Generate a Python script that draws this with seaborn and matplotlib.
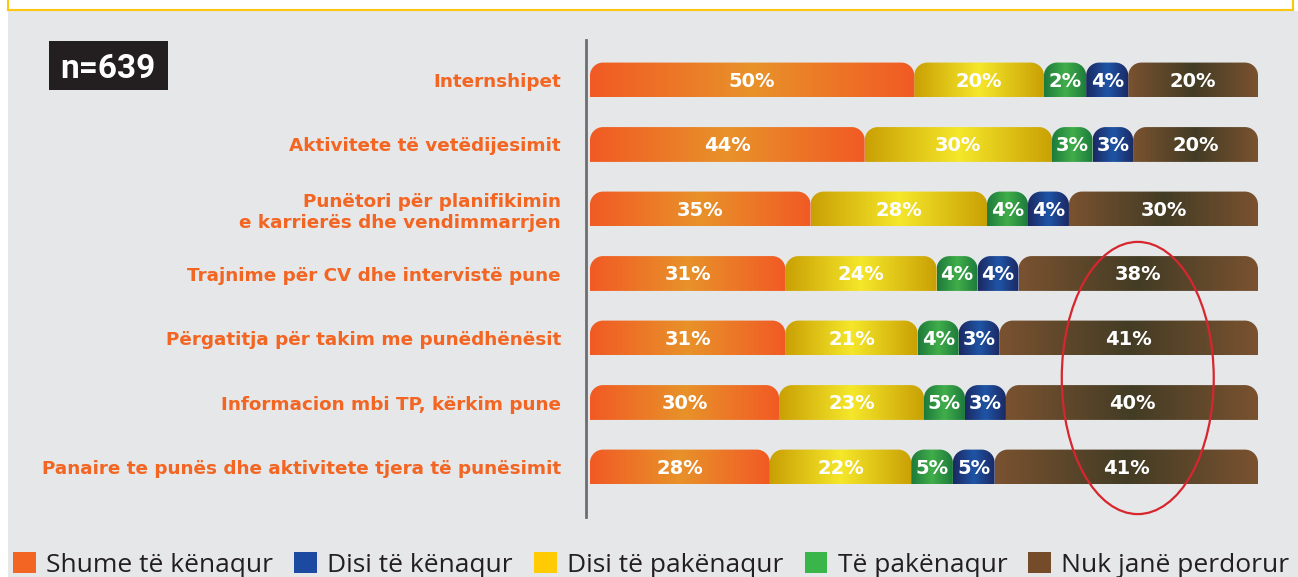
import numpy as np
import pandas as pd
import matplotlib
matplotlib.use("Agg")
import matplotlib.pyplot as plt
import seaborn as sns
from matplotlib.path import Path
from matplotlib.patches import PathPatch, Patch, Rectangle, Ellipse
from matplotlib.colors import LinearSegmentedColormap
from matplotlib.lines import Line2D

plt.rcParams["font.family"] = "DejaVu Sans"
plt.rcParams["font.weight"] = "bold"

# data
categories = [
    "Internshipet",
    "Aktivitete të vetëdijesimit",
    "Punëtori për planifikimin\ne karrierës dhe vendimmarrjen",
    "Trajnime për CV dhe intervistë pune",
    "Përgatitja për takim me punëdhënësit",
    "Informacion mbi TP, kërkim pune",
    "Panaire te punës dhe aktivitete tjera të punësimit",
]
shume_kenaqur = [50, 44, 35, 31, 31, 30, 28]
disi_pakenaqur = [20, 30, 28, 24, 21, 23, 22]
te_pakenaqur = [2, 3, 4, 4, 4, 5, 5]
disi_kenaqur = [4, 3, 4, 4, 3, 3, 5]
nuk_perdorur = [20, 20, 30, 38, 41, 40, 41]

legend_labels = ["Shume të kënaqur", "Disi të kënaqur", "Disi të pakënaqur",
                 "Të pakënaqur", "Nuk janë perdorur"]
legend_colors = ["#f26522", "#1b4aa0", "#ffcb05", "#39b54a", "#754c29"]

# segment order in bars (left to right) and gradient colours (edge, centre)
series = [shume_kenaqur, disi_pakenaqur, te_pakenaqur, disi_kenaqur, nuk_perdorur]
gradients = [
    ("#f15a24", "#e8922a"),
    ("#c9a004", "#f5e72a"),
    ("#1d7a3b", "#41ae4a"),
    ("#1b2862", "#1f55a6"),
    ("#7a5230", "#433c25"),
]

vals = np.array(series, dtype=float).T          # rows x segments
# tiny segments get a minimum visual width so labels fit, rows fill the width
disp = np.maximum(vals, 6.5)
disp = disp / disp.sum(axis=1, keepdims=True) * 100
cum = np.cumsum(disp, axis=1)

W, H = 1298, 577
fig = plt.figure(figsize=(W / 100, H / 100), dpi=100, facecolor="white")

# grey panel + yellow frame of the block above
fig.patches.append(Rectangle((8 / W, 0), 1 - 8 / W, 1 - 11 / H, transform=fig.transFigure,
                             facecolor="#e6e7e8", edgecolor="none", zorder=-5))
ylw = "#fdc70f"
fig.lines.append(Line2D([8 / W, 1293 / W], [1 - 10 / H, 1 - 10 / H], transform=fig.transFigure,
                        color=ylw, lw=1.5, zorder=-4))
fig.lines.append(Line2D([8 / W, 8 / W], [1 - 10 / H, 1], transform=fig.transFigure, color=ylw,
                        lw=1.5, zorder=-4))
fig.lines.append(Line2D([1293 / W, 1293 / W], [1 - 10 / H, 1], transform=fig.transFigure,
                        color=ylw, lw=1.5, zorder=-4))

ax = fig.add_axes([590 / W, 60 / H, 668 / W, 477 / H])
ax.set_facecolor("none")

df = pd.DataFrame(cum, columns=[f"c{i}" for i in range(5)])
df["cat"] = categories

bar_h = 0.54
layers = []
for i in range(4, -1, -1):
    n0 = len(ax.patches)
    sns.barplot(data=df, x=f"c{i}", y="cat", orient="h", width=bar_h, color="grey",
                errorbar=None, ax=ax)
    layers.append((i, ax.patches[n0:]))

ax.set_xlim(0, 100)
ax.set_ylim(6.775, -0.62)
ax.set_autoscale_on(False)

p0 = ax.transData.transform((0, 0))
p1 = ax.transData.transform((1, 1))
px_x = abs(p1[0] - p0[0])
px_y = abs(p1[1] - p0[1])
r_px = 13
k = 0.5523

for i, patches in layers:
    cmap = LinearSegmentedColormap.from_list(f"g{i}", [gradients[i][0], gradients[i][1], gradients[i][0]])
    for row, p in enumerate(patches):
        p.set_visible(False)
        x1 = p.get_width()
        x0 = cum[row, i - 1] if i > 0 else 0.0
        yt = p.get_y()
        yb = yt + p.get_height()
        rx = min(r_px / px_x, (x1 - x0) / 2)
        ry = r_px / px_y
        verts = [(x0, yb), (x1, yb), (x1, yt + ry),
                 (x1, yt + ry - k * ry), (x1 - rx + k * rx, yt), (x1 - rx, yt),
                 (x0 + rx, yt),
                 (x0 + rx - k * rx, yt), (x0, yt + ry - k * ry), (x0, yt + ry),
                 (x0, yb)]
        codes = [Path.MOVETO, Path.LINETO, Path.LINETO,
                 Path.CURVE4, Path.CURVE4, Path.CURVE4,
                 Path.LINETO,
                 Path.CURVE4, Path.CURVE4, Path.CURVE4,
                 Path.CLOSEPOLY]
        clip = PathPatch(Path(verts, codes), transform=ax.transData, facecolor="none",
                         edgecolor="none")
        ax.add_patch(clip)
        im = ax.imshow(np.linspace(0, 1, 256)[None, :], cmap=cmap, aspect="auto",
                       extent=(x0, x1, yb, yt), interpolation="bicubic", zorder=2)
        im.set_clip_path(clip)
        ax.text((x0 + x1) / 2, (yt + yb) / 2 + 0.02, f"{int(vals[row, i])}%", ha="center",
                va="center", color="white", fontsize=14, fontweight="bold", zorder=3)

ax.set_xlim(0, 100)
ax.set_ylim(6.775, -0.62)

ax.set_xlabel("")
ax.set_ylabel("")
ax.set_xticks([])
ax.tick_params(axis="y", length=0, pad=18, labelcolor="#f26522", labelsize=13.2)
for s in ["top", "right", "bottom"]:
    ax.spines[s].set_visible(False)
ax.spines["left"].set_color("#6d6e71")
ax.spines["left"].set_linewidth(2)
ax.spines["left"].set_position(("outward", 3))

# highlight ellipse
ax.add_patch(Ellipse((82.0, 4.62), 22.75, 4.22, facecolor="none", edgecolor="#d7262e",
                     lw=1.6, clip_on=False, zorder=4))

# sample size box
fig.patches.append(Rectangle((49 / W, 1 - 90 / H), 119 / W, 49 / H, transform=fig.transFigure,
                             facecolor="#231f20", edgecolor="none", zorder=-3))
fig.text(108 / W, 1 - 65 / H, "n=639", ha="center", va="center_baseline", color="white",
         fontsize=24, fontweight="bold", family="Roboto")

handles = [Patch(facecolor=c, edgecolor="none") for c in legend_colors]
fig.legend(handles, legend_labels, loc="lower left", bbox_to_anchor=(8 / W, -6 / H),
           ncol=5, frameon=False, handlelength=0.85, handleheight=0.85,
           handletextpad=0.4, columnspacing=0.8, borderaxespad=0.1, borderpad=0.1,
           prop={"family": "Open Sans", "size": 19, "weight": "normal"}, labelcolor="#231f20")

fig.savefig("out.png", dpi=100, facecolor="white")
